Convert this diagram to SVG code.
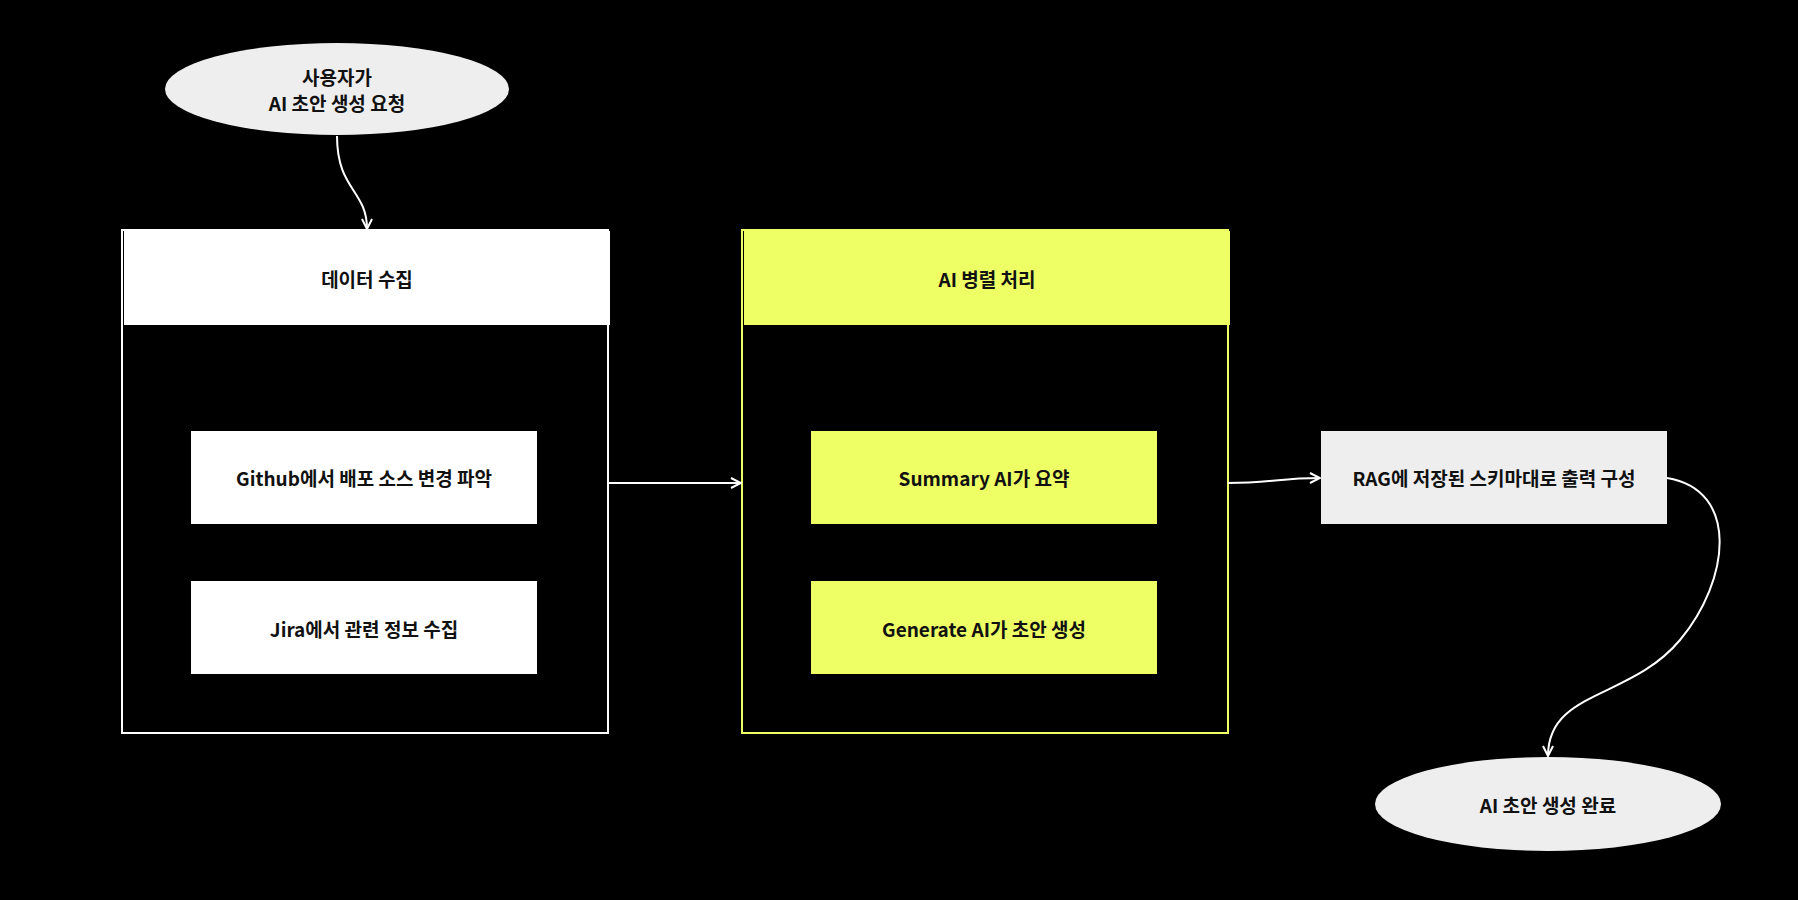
<svg xmlns="http://www.w3.org/2000/svg" width="1798" height="900" viewBox="0 0 1798 900">
<style>
text{font-family:"Noto Sans CJK KR","Noto Sans",sans-serif;font-weight:bold;font-size:19px;text-anchor:middle;dominant-baseline:central;fill:#111}
.c{fill:none;stroke:#fff;stroke-width:2}
</style>
<defs><marker id="a" viewBox="0 0 12 12" refX="11" refY="6" markerWidth="12" markerHeight="12" markerUnits="userSpaceOnUse" orient="auto"><path d="M1,1 L11,6 L1,11" fill="none" stroke="#fff" stroke-width="2"/></marker></defs>
<rect width="1798" height="900" fill="#000"/>
<g id="start"><ellipse cx="337" cy="89" rx="172" ry="46" fill="#eee"/><text x="337" y="76">사용자가</text><text x="337" y="102">AI 초안 생성 요청</text></g>
<g id="collect"><rect x="122" y="230" width="486" height="503" fill="none" stroke="#fff" stroke-width="2"/><rect x="124" y="231" width="486" height="94" fill="#fff"/><text x="367" y="278">데이터 수집</text></g>
<g id="github"><rect x="191" y="431" width="346" height="93" fill="#fff"/><text x="364" y="477">Github에서 배포 소스 변경 파악</text></g>
<g id="jira"><rect x="191" y="581" width="346" height="93" fill="#fff"/><text x="364" y="628">Jira에서 관련 정보 수집</text></g>
<g id="ai"><rect x="742" y="230" width="486" height="503" fill="none" stroke="#eeff66" stroke-width="2"/><rect x="744" y="231" width="486" height="94" fill="#eeff66"/><text x="987" y="278">AI 병렬 처리</text></g>
<g id="summary"><rect x="811" y="431" width="346" height="93" fill="#eeff66"/><text x="984" y="477">Summary AI가 요약</text></g>
<g id="generate"><rect x="811" y="581" width="346" height="93" fill="#eeff66"/><text x="984" y="628">Generate AI가 초안 생성</text></g>
<g id="rag"><rect x="1321" y="431" width="346" height="93" fill="#eee"/><text x="1494" y="477">RAG에 저장된 스키마대로 출력 구성</text></g>
<g id="done"><ellipse cx="1548" cy="804" rx="173" ry="47" fill="#eee"/><text x="1548" y="804">AI 초안 생성 완료</text></g>
<g id="connectors">
<path class="c" marker-end="url(#a)" d="M337,136 C337,190 367,190 367,229"/>
<path class="c" marker-end="url(#a)" d="M608,483 L741,483"/>
<path class="c" marker-end="url(#a)" d="M1228,483 C1270,483 1280,478 1320,478"/>
<path class="c" marker-end="url(#a)" d="M1667,478 C1740,490 1730,580 1680,640 C1630,700 1548,690 1548,756"/>
</g>
</svg>
